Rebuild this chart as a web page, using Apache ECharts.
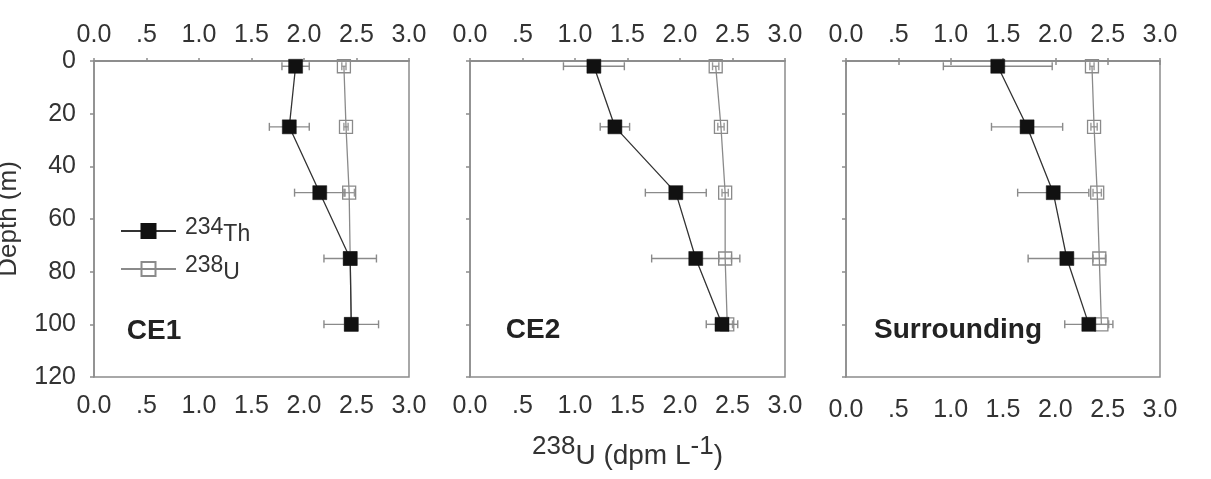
<!DOCTYPE html>
<html>
<head>
<meta charset="utf-8">
<script src="https://cdn.jsdelivr.net/npm/echarts@6/dist/echarts.min.js"></script>
<style>html,body{margin:0;padding:0;background:#fff}#c{width:1211px;height:479px}</style>
</head>
<body>
<div id="c"></div>
<script>
// ---- data ----
const depths = [2, 25, 50, 75, 100];
const xTickLabels = ['0.0', '.5', '1.0', '1.5', '2.0', '2.5', '3.0'];
const yTickLabels = ['0', '20', '40', '60', '80', '100', '120'];
const panelNames = ['CE1', 'CE2', 'Surrounding'];

const ce1Th = [1.92, 1.86, 2.15, 2.44, 2.45];
const ce1ThErr = [0.13, 0.19, 0.24, 0.25, 0.26];
const ce1U = [2.38, 2.40, 2.43, 2.44, 2.45];
const ce1UErr = [0.02, 0.02, 0.05, 0.03, 0.03];

const ce2Th = [1.18, 1.38, 1.96, 2.15, 2.40];
const ce2ThErr = [0.29, 0.14, 0.29, 0.42, 0.15];
const ce2U = [2.34, 2.39, 2.43, 2.43, 2.45];
const ce2UErr = [0.03, 0.03, 0.03, 0.06, 0.05];

const surTh = [1.45, 1.73, 1.98, 2.11, 2.32];
const surThErr = [0.52, 0.34, 0.34, 0.37, 0.23];
const surU = [2.35, 2.37, 2.40, 2.42, 2.44];
const surUErr = [0.02, 0.03, 0.04, 0.06, 0.07];

const panels = [
  {th: ce1Th, thErr: ce1ThErr, u: ce1U, uErr: ce1UErr},
  {th: ce2Th, thErr: ce2ThErr, u: ce2U, uErr: ce2UErr},
  {th: surTh, thErr: surThErr, u: surU, uErr: surUErr}
];

// ---- layout / style ----
const gridLefts = [94, 470, 846];
const gridWidths = [315, 315, 314];
const gridTop = 61, gridHeight = 316;
const axisColor = '#8c8c8c';
const textColor = '#333';
const font = 'Liberation Sans, Arial, sans-serif';

const chart = echarts.init(document.getElementById('c'), null, {renderer: 'canvas'});

const grids = [], xAxes = [], yAxes = [], series = [];
const xFmt = v => xTickLabels[Math.round(v / 0.5)];
const yFmt = v => yTickLabels[Math.round(v / 20)];

function errRender(color) {
  return function (params, api) {
    const lo = api.coord([api.value(0), api.value(2)]);
    const hi = api.coord([api.value(1), api.value(2)]);
    const cap = 4;
    const st = {stroke: color, lineWidth: 1.4};
    return {type: 'group', children: [
      {type: 'line', shape: {x1: lo[0], y1: lo[1], x2: hi[0], y2: hi[1]}, style: st},
      {type: 'line', shape: {x1: lo[0], y1: lo[1] - cap, x2: lo[0], y2: lo[1] + cap}, style: st},
      {type: 'line', shape: {x1: hi[0], y1: hi[1] - cap, x2: hi[0], y2: hi[1] + cap}, style: st}
    ]};
  };
}

panels.forEach((p, i) => {
  grids.push({left: gridLefts[i], top: gridTop, width: gridWidths[i], height: gridHeight,
    outerBoundsMode: 'none',
    show: true, borderColor: axisColor, borderWidth: 1.5, backgroundColor: 'transparent', containLabel: false});
  const axisBase = {
    type: 'value', min: 0, max: 3, interval: 0.5, gridIndex: i,
    axisLine: {show: true, lineStyle: {color: axisColor, width: 1.5}},
    splitLine: {show: false},
    axisLabel: {formatter: xFmt, color: textColor, fontSize: 25, fontFamily: font}
  };
  // bottom axis
  xAxes.push(Object.assign({}, axisBase, {
    position: 'bottom',
    axisTick: {show: i === 2, inside: false, length: 4, lineStyle: {color: axisColor, width: 1.5}},
    axisLabel: Object.assign({}, axisBase.axisLabel, {margin: i === 2 ? 21 : 17}),
    name: i === 1 ? '{s|238}{b|U (dpm L}{s|-1}{b|)}' : '',
    nameLocation: 'middle', nameGap: 56,
    nameTextStyle: {color: textColor, fontFamily: font, rich: {
      s: {fontSize: 26, fontFamily: font, color: textColor, padding: [0, 0, 9, 0]},
      b: {fontSize: 28, fontFamily: font, color: textColor, padding: [9, 0, 0, 0]}
    }}
  }));
  // top axis
  xAxes.push(Object.assign({}, axisBase, {
    position: 'top',
    axisTick: {show: true, inside: false, length: 3, lineStyle: {color: axisColor, width: 1.5}},
    axisLabel: Object.assign({}, axisBase.axisLabel, {margin: 13})
  }));
  yAxes.push({
    type: 'value', min: 0, max: 120, interval: 20, inverse: true, gridIndex: i,
    axisLine: {show: true, lineStyle: {color: axisColor, width: 1.5}},
    axisTick: {show: true, length: 4, lineStyle: {color: axisColor, width: 1.5}},
    splitLine: {show: false},
    axisLabel: {show: i === 0, formatter: yFmt, color: textColor, fontSize: 25, fontFamily: font, margin: 18},
    name: i === 0 ? 'Depth (m)' : '',
    nameLocation: 'middle', nameGap: 72,
    nameTextStyle: {color: textColor, fontSize: 26, fontFamily: font}
  });

  const xi = i * 2;
  series.push({
    type: 'custom', xAxisIndex: xi, yAxisIndex: i, z: 1, silent: true,
    renderItem: errRender('#999'), encode: {x: [0, 1], y: 2},
    data: p.u.map((v, k) => [v - p.uErr[k], v + p.uErr[k], depths[k]])
  });
  series.push({
    type: 'custom', xAxisIndex: xi, yAxisIndex: i, z: 2, silent: true,
    renderItem: errRender('#8a8a8a'), encode: {x: [0, 1], y: 2},
    data: p.th.map((v, k) => [v - p.thErr[k], v + p.thErr[k], depths[k]])
  });
  series.push({
    name: '238U', type: 'line', xAxisIndex: xi, yAxisIndex: i, z: 3,
    symbol: 'rect', symbolSize: 13, showSymbol: true,
    lineStyle: {color: '#8a8a8a', width: 1.3},
    itemStyle: {color: 'rgba(255,255,255,0)', borderColor: '#8a8a8a', borderWidth: 1.3},
    emphasis: {disabled: true},
    data: p.u.map((v, k) => [v, depths[k]])
  });
  series.push({
    name: '234Th', type: 'line', xAxisIndex: xi, yAxisIndex: i, z: 4,
    symbol: 'rect', symbolSize: 14, showSymbol: true,
    lineStyle: {color: '#333', width: 1.3},
    itemStyle: {color: '#111', borderColor: '#111', borderWidth: 0.5},
    emphasis: {disabled: true},
    data: p.th.map((v, k) => [v, depths[k]])
  });
});

const labelPos = [[154, 331], [533, 330], [958, 330]];

chart.setOption({
  animation: false,
  backgroundColor: '#fff',
  grid: grids,
  xAxis: xAxes,
  yAxis: yAxes,
  series: series,
  legend: {
    data: ['234Th', '238U'],
    orient: 'vertical', left: 115, top: 211,
    itemWidth: 55, itemHeight: 17.5, itemGap: 8,
    selectedMode: false,
    formatter: n => n === '234Th' ? '{s|234}{b|Th}' : '{s|238}{b|U}',
    textStyle: {color: textColor, fontFamily: font, padding: [0, 0, 0, 4], rich: {
      s: {fontSize: 23, fontFamily: font, color: textColor, padding: [0, 0, 7, 0]},
      b: {fontSize: 23, fontFamily: font, color: textColor, padding: [7, 0, 0, 0]}
    }}
  },
  graphic: panelNames.map((t, i) => ({
    type: 'text', x: labelPos[i][0], y: labelPos[i][1], z: 10,
    style: {text: t, fontSize: 28, fontWeight: 'bold', fontFamily: font, fill: '#222',
      textAlign: 'center', textVerticalAlign: 'middle'}
  }))
});
</script>
</body>
</html>
